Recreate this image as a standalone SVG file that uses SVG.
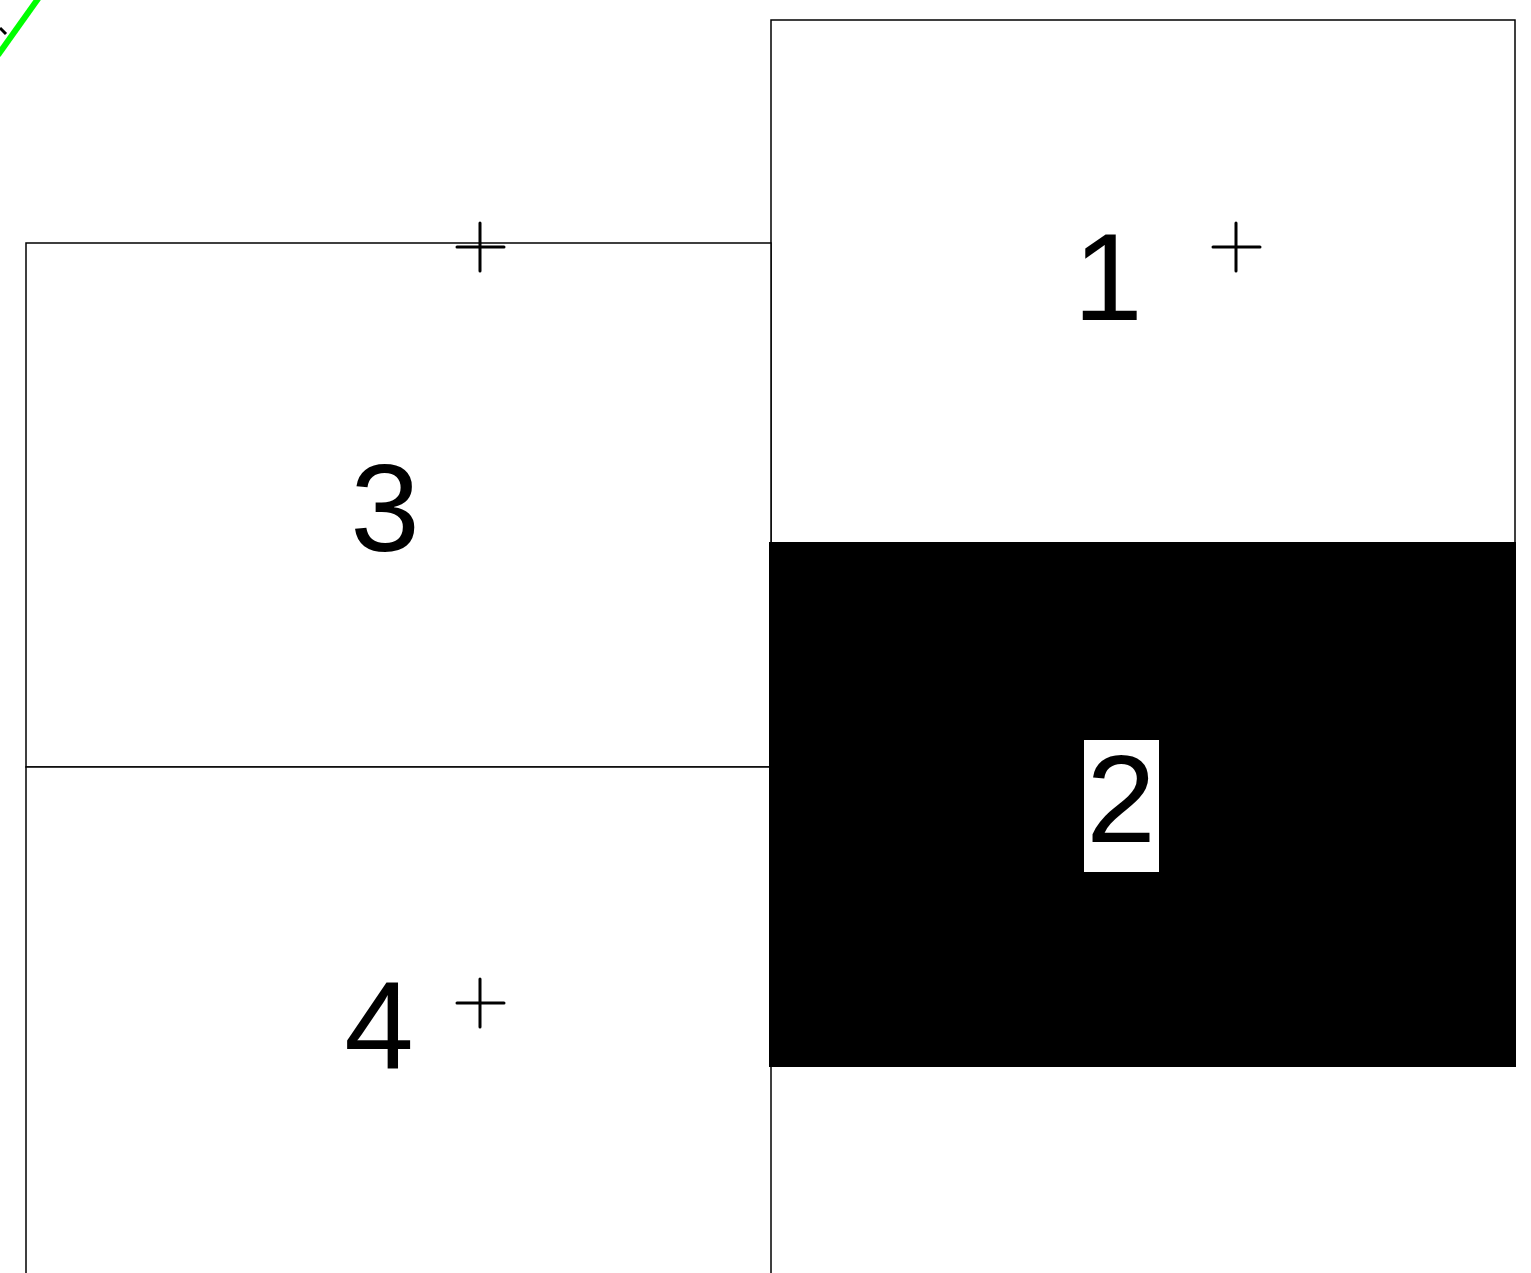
<svg xmlns="http://www.w3.org/2000/svg" width="1531" height="1273" viewBox="0 0 1531 1273">
<style>
.box{fill:#fff;stroke:#000;stroke-width:1.5}
.lbl{font-family:"Liberation Sans",Arial,sans-serif;font-size:125px;fill:#000;text-anchor:middle}
.cross{stroke:#000;stroke-width:3;stroke-linecap:round;fill:none}
</style>
<rect width="1531" height="1273" fill="#fff"/>
<g id="node1">
<rect class="box" x="771" y="20" width="744" height="1046"/>
</g>
<g id="node3">
<rect class="box" x="26" y="243" width="745" height="524"/>
</g>
<g id="node4">
<rect class="box" x="26" y="767" width="745" height="560"/>
</g>
<g id="node2">
<rect x="769" y="542" width="747" height="525" fill="#000"/>
<rect x="1084" y="740" width="75" height="132" fill="#fff"/>
</g>
<g id="labels">
<text class="lbl" x="1108" y="320">1</text>
<text class="lbl" x="385" y="551">3</text>
<text class="lbl" x="379" y="1068">4</text>
<text class="lbl" x="1121" y="842">2</text>
</g>
<g id="connectors">
<path class="cross" d="M480 223V271M457 247H504"/>
<path class="cross" d="M1236 223V271M1213 247H1260"/>
<path class="cross" d="M480 979V1027M457 1003H504"/>
<path d="M0 28L6 34" stroke="#000" stroke-width="3"/>
<path d="M-2 55L40 -4" stroke="#00ff00" stroke-width="6"/>
</g>
</svg>
